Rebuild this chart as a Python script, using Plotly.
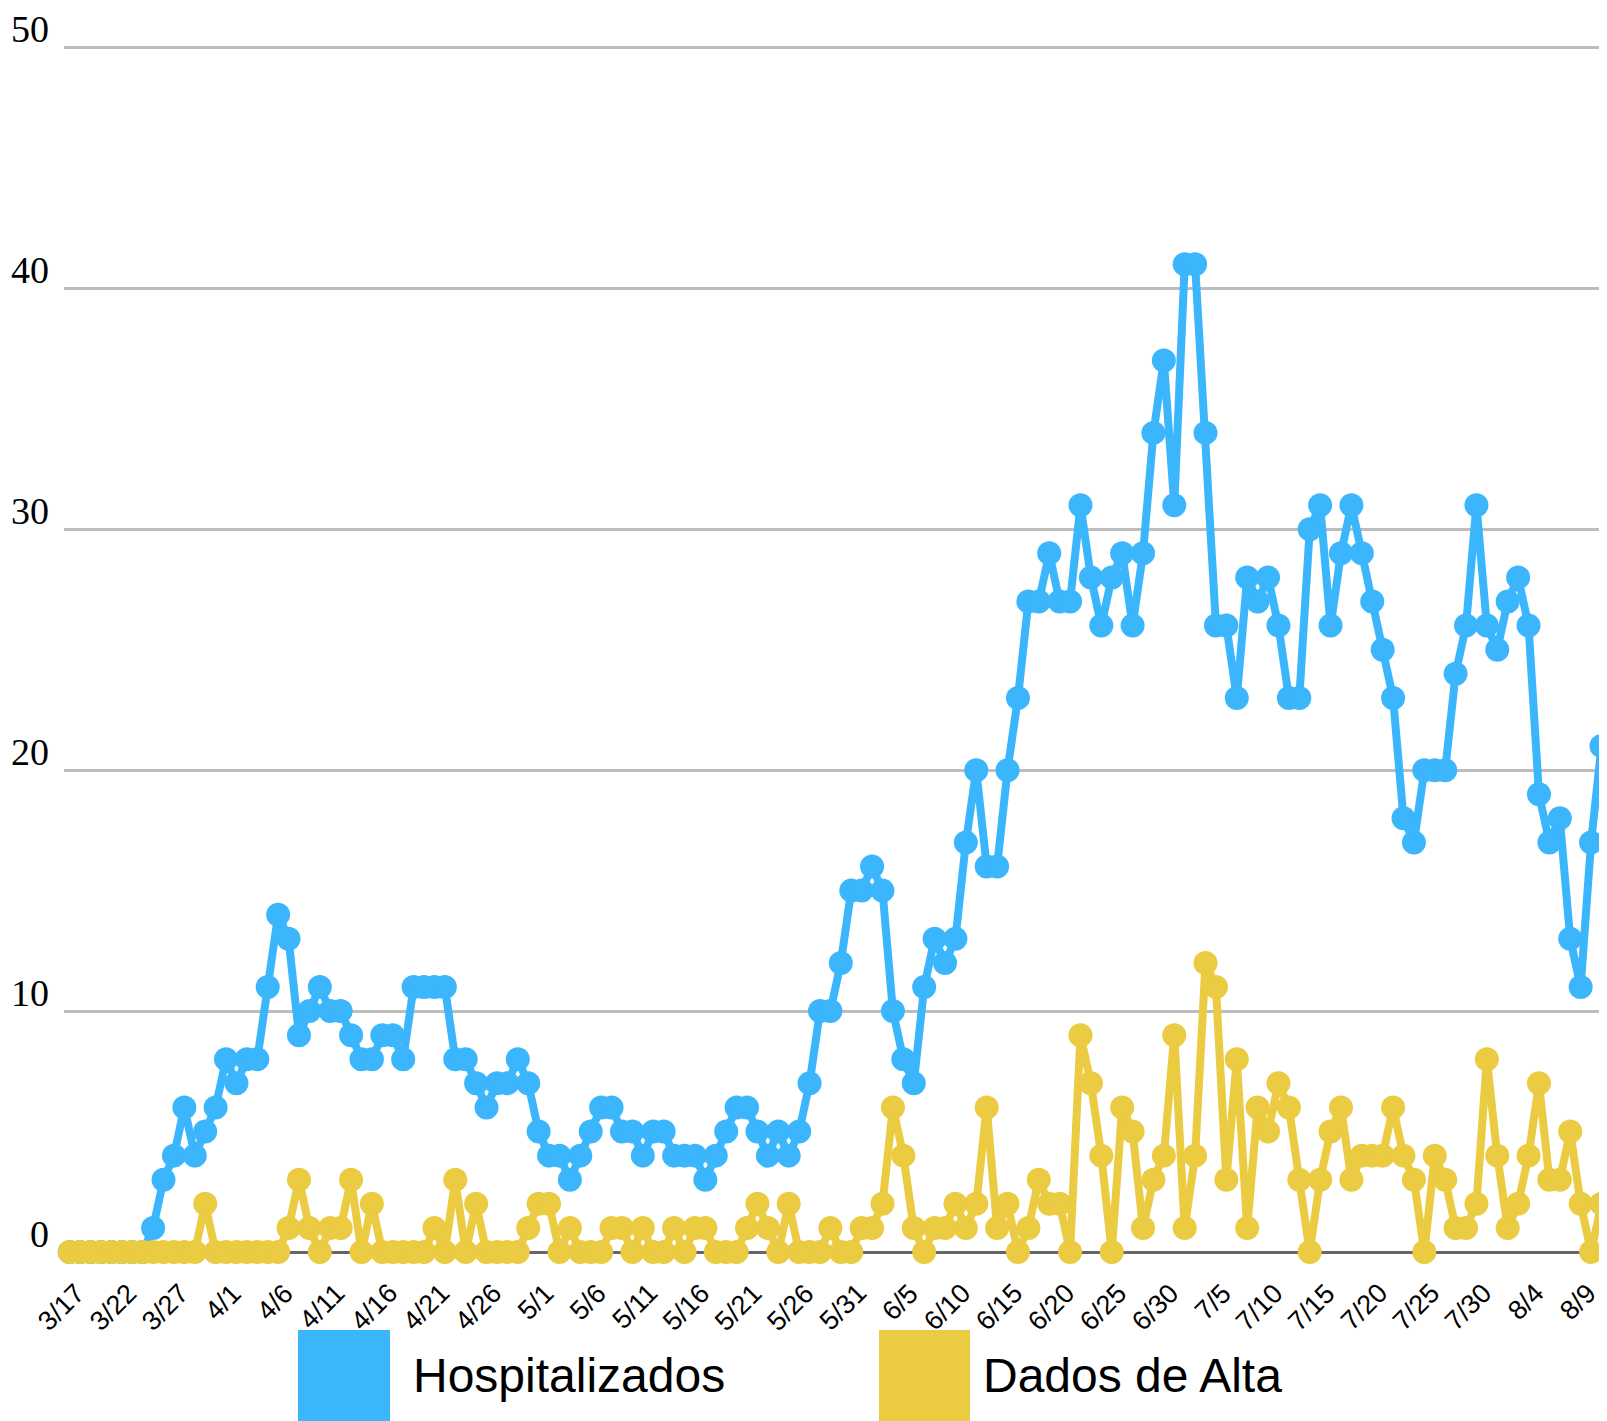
import datetime as dt
import plotly.graph_objects as go

# ---------------- data ----------------
START_DATE = dt.date(2020, 3, 17)

hospitalizados = [
    0, 0, 0, 0, 0, 0, 0, 0, 1, 3,
    4, 6, 4, 5, 6, 8, 7, 8, 8, 11,
    14, 13, 9, 10, 11, 10, 10, 9, 8, 8,
    9, 9, 8, 11, 11, 11, 11, 8, 8, 7,
    6, 7, 7, 8, 7, 5, 4, 4, 3, 4,
    5, 6, 6, 5, 5, 4, 5, 5, 4, 4,
    4, 3, 4, 5, 6, 6, 5, 4, 5, 4,
    5, 7, 10, 10, 12, 15, 15, 16, 15, 10,
    8, 7, 11, 13, 12, 13, 17, 20, 16, 16,
    20, 23, 27, 27, 29, 27, 27, 31, 28, 26,
    28, 29, 26, 29, 34, 37, 31, 41, 41, 34,
    26, 26, 23, 28, 27, 28, 26, 23, 23, 30,
    31, 26, 29, 31, 29, 27, 25, 23, 18, 17,
    20, 20, 20, 24, 26, 31, 26, 25, 27, 28,
    26, 19, 17, 18, 13, 11, 17, 21,
]

dados_de_alta = [
    0, 0, 0, 0, 0, 0, 0, 0, 0, 0,
    0, 0, 0, 2, 0, 0, 0, 0, 0, 0,
    0, 1, 3, 1, 0, 1, 1, 3, 0, 2,
    0, 0, 0, 0, 0, 1, 0, 3, 0, 2,
    0, 0, 0, 0, 1, 2, 2, 0, 1, 0,
    0, 0, 1, 1, 0, 1, 0, 0, 1, 0,
    1, 1, 0, 0, 0, 1, 2, 1, 0, 2,
    0, 0, 0, 1, 0, 0, 1, 1, 2, 6,
    4, 1, 0, 1, 1, 2, 1, 2, 6, 1,
    2, 0, 1, 3, 2, 2, 0, 9, 7, 4,
    0, 6, 5, 1, 3, 4, 9, 1, 4, 12,
    11, 3, 8, 1, 6, 5, 7, 6, 3, 0,
    3, 5, 6, 3, 4, 4, 4, 6, 4, 3,
    0, 4, 3, 1, 1, 2, 8, 4, 1, 2,
    4, 7, 3, 3, 5, 2, 0, 2,
]

dates = [START_DATE + dt.timedelta(days=i) for i in range(len(hospitalizados))]
categories = [f"{d.month}/{d.day}" for d in dates]

tick_labels = ["3/17", "3/22", "3/27", "4/1", "4/6", "4/11", "4/16", "4/21",
               "4/26", "5/1", "5/6", "5/11", "5/16", "5/21", "5/26", "5/31",
               "6/5", "6/10", "6/15", "6/20", "6/25", "6/30", "7/5", "7/10",
               "7/15", "7/20", "7/25", "7/30", "8/4", "8/9"]
y_ticks = [0, 10, 20, 30, 40, 50]

series_names = ["Hospitalizados", "Dados de Alta"]
BLUE = "#3BB6FD"
YELLOW = "#EBCB41"

# ---------------- layout geometry (pixels) ----------------
# the page body adds an 8px offset, so the figure is 8px smaller
OFF = 8
W, H = 1607 - OFF, 1421 - OFF
ML, MR, MT, MB = 56, 0, 37, 169
PW = W - ML - MR
PH = H - MT - MB
Y_TOP = 50.1


def px(xr):
    """reference-page x pixel -> paper x"""
    return (xr - OFF - ML) / PW


def py(yr):
    """reference-page y pixel -> paper y"""
    return (H - MB - (yr - OFF)) / PH


fig = go.Figure()
for name, vals, col in [(series_names[0], hospitalizados, BLUE),
                        (series_names[1], dados_de_alta, YELLOW)]:
    fig.add_trace(go.Scatter(
        x=categories, y=vals, name=name, mode="lines+markers",
        line=dict(color=col, width=8),
        marker=dict(color=col, size=24, line=dict(width=0)),
        cliponaxis=False, showlegend=False,
    ))

fig.update_layout(
    width=W, height=H,
    margin=dict(l=ML, r=MR, t=MT, b=MB, pad=0, autoexpand=False),
    paper_bgcolor="white", plot_bgcolor="white",
    xaxis=dict(
        type="category", range=[-0.55, 147.53],
        showticklabels=False, showgrid=False, zeroline=False, showline=False,
        ticks="",
    ),
    yaxis=dict(
        range=[0, Y_TOP], tickmode="array", tickvals=y_ticks,
        showticklabels=False,
        showgrid=True, gridcolor="#BDBDBD", gridwidth=2.5,
        zeroline=True, zerolinecolor="#666666", zerolinewidth=2.5,
        showline=False, ticks="",
    ),
)

# x tick labels (rotated)
for lab in tick_labels:
    fig.add_annotation(
        x=lab, xref="x", y=py(1275), yref="paper",
        xanchor="right", yanchor="top", textangle=-45, xshift=24,
        showarrow=False, text=lab,
        font=dict(family="Liberation Sans", size=27, color="black"),
    )

# y tick labels (sit just above their grid lines)
for v in y_ticks:
    fig.add_annotation(
        x=px(51), xref="paper", y=v, yref="y",
        xanchor="right", yanchor="bottom", yshift=-5,
        showarrow=False, text=str(v),
        font=dict(family="Liberation Serif", size=38, color="black"),
    )

# legend drawn as large squares + labels below the plot
legend_items = [
    (series_names[0], BLUE, 298, 390, 411),
    (series_names[1], YELLOW, 879, 970, 981),
]
for name, col, x0, x1, tx in legend_items:
    fig.add_shape(type="rect", xref="paper", yref="paper",
                  x0=px(x0), x1=px(x1), y0=py(1425), y1=py(1330),
                  fillcolor=col, line=dict(width=0), layer="above")
    fig.add_annotation(xref="paper", yref="paper", x=px(tx), y=py(1375),
                       xanchor="left", yanchor="middle", showarrow=False,
                       text=name,
                       font=dict(family="Liberation Sans", size=48, color="black"))

fig.write_html("out.html")
